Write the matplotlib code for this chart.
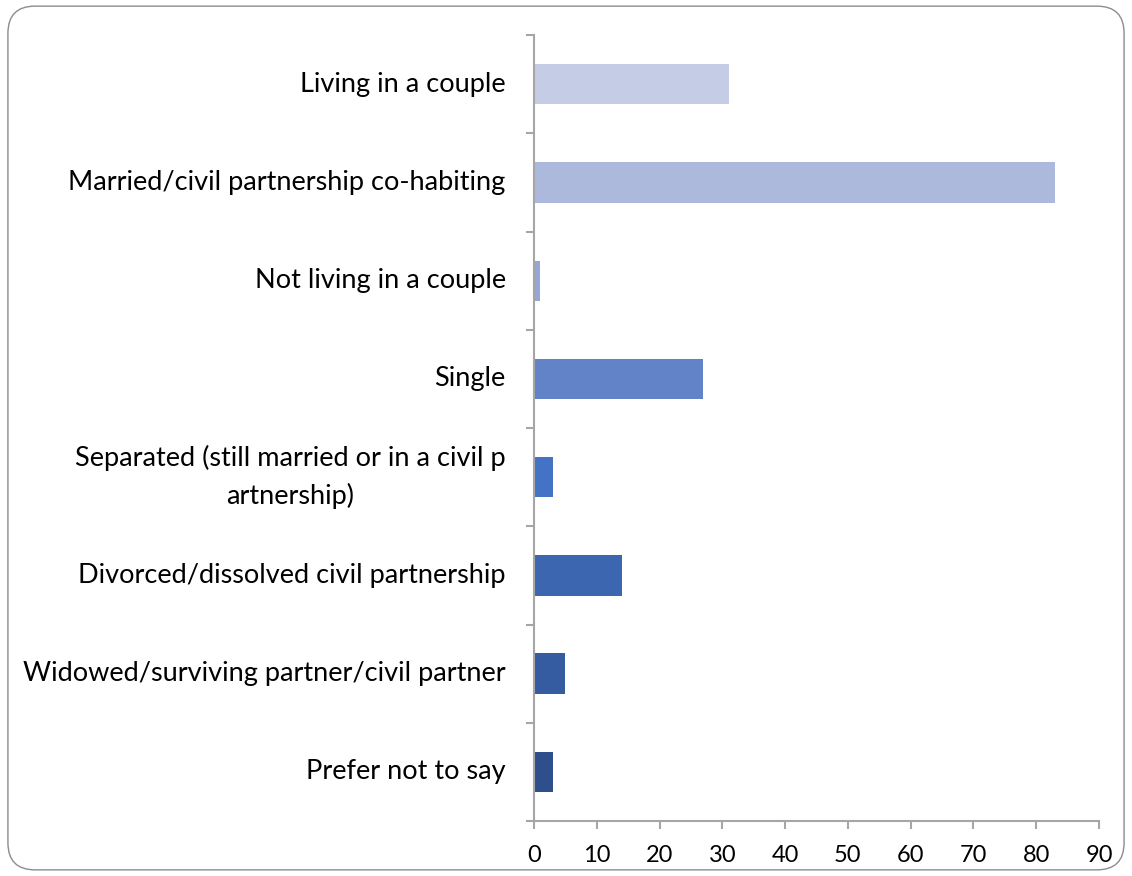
import numpy as np
import matplotlib.pyplot as plt
from matplotlib.patches import FancyBboxPatch

categories = [
    "Living in a couple",
    "Married/civil partnership co-habiting",
    "Not living in a couple",
    "Single",
    "Separated (still married or in a civil p\nartnership)",
    "Divorced/dissolved civil partnership",
    "Widowed/surviving partner/civil partner",
    "Prefer not to say",
]
values = [31, 83, 1, 27, 3, 14, 5, 3]
colors = ["#c5cde6", "#adb9dc", "#94a7d8", "#6383c9",
          "#4472c4", "#3c66b0", "#355ba0", "#2e4f8b"]

plt.rcParams['font.family'] = ['Lato', 'DejaVu Sans']

fig = plt.figure(figsize=(11.32, 8.76), dpi=100)
ax = fig.add_axes([0.4717, 0.0628, 0.4992, 0.8972])

#rounded frame around the whole chart
frame = FancyBboxPatch((0.007, 0.007), 0.986, 0.986,
                       boxstyle="round,pad=0,rounding_size=0.024",
                       transform=fig.transFigure, fill=False,
                       edgecolor="#8c8c8c", linewidth=1.0,
                       mutation_aspect=1132/876)
fig.patches.append(frame)

y = np.arange(len(categories))
ax.barh(y, values, height=0.41, color=colors)

ax.set_xlim(0, 90)
ax.set_ylim(len(categories) - 0.5, -0.5)
ax.set_xticks(np.arange(0, 91, 10))

# category labels centred on bars, ticks on the boundaries
ax.set_yticks(np.arange(-0.5, len(categories), 1))
ax.set_yticklabels([])
for i, lab in enumerate(categories):
    ax.text(-0.05, i, lab, transform=ax.get_yaxis_transform(),
            ha='right', va='center', multialignment='center',
            fontsize=19.5, color="black", linespacing=1.55)

for s in ['top', 'right']:
    ax.spines[s].set_visible(False)
for s in ['left', 'bottom']:
    ax.spines[s].set_color("#a6a6a6")
    ax.spines[s].set_linewidth(1.5)
ax.tick_params(axis='both', colors="#a6a6a6", width=1.5, length=6,
               labelcolor="black", labelsize=17)
ax.tick_params(axis='x', pad=11)

fig.savefig("out.png", dpi=100)
